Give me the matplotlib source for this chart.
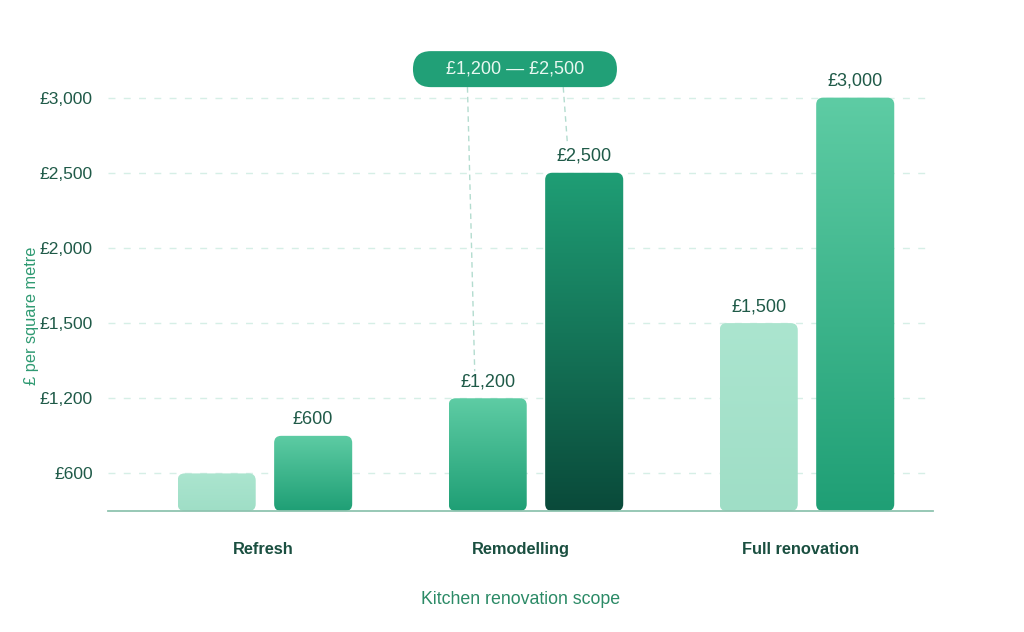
import numpy as np
import matplotlib
matplotlib.use("Agg")
import matplotlib.pyplot as plt
from matplotlib.patches import FancyBboxPatch
from matplotlib.colors import LinearSegmentedColormap

plt.rcParams["font.family"] = ["Liberation Sans", "DejaVu Sans"]

# data
categories = ["Refresh", "Remodelling", "Full renovation"]
low_values = [500, 1000, 1500]
high_values = [750, 2500, 3000]
low_labels = ["", "£1,200", "£1,500"]
high_labels = ["£600", "£2,500", "£3,000"]
tick_values = [500, 1000, 1500, 2000, 2500, 3000]
tick_labels = ["£600", "£1,200", "£1,500", "£2,000", "£2,500", "£3,000"]
range_label = "£1,200 — £2,500"
y_floor = 250

# styles
gradients = {
    "light": ("#9fdec6", "#abe5cf"),
    "mid": ("#1f9f75", "#5ecca4"),
    "dark": ("#0a4a3a", "#1f9e75"),
}
low_styles = ["light", "mid", "light"]
high_styles = ["mid", "dark", "mid"]
label_shift_px = [-2, -15, -6.5]  # category labels sit a little left of the groups
TXT = "#1f5a48"

fig = plt.figure(figsize=(10.24, 6.32), dpi=100)
ax = fig.add_axes([108 / 1024, 121 / 632, 825 / 1024, 473.5 / 632])
ax.set_xlim(-0.579, 2.465)
ax.set_ylim(y_floor, 3400)

x = np.arange(len(categories))
off, width = 0.178, 0.288

bars_low = ax.bar(x - off, np.array(low_values) - y_floor, width, bottom=y_floor)
bars_high = ax.bar(x + off, np.array(high_values) - y_floor, width, bottom=y_floor)

# pixel -> data helpers
p0 = ax.transData.transform((0, 0))
p1 = ax.transData.transform((1, 1))
px_x = p1[0] - p0[0]
px_y = p1[1] - p0[1]
dx = lambda p: p / px_x
dy = lambda p: p / px_y
asp = dy(1) / dx(1)


def draw_bar(rect, style):
    bx, by = rect.get_x(), rect.get_y()
    bw, bh = rect.get_width(), rect.get_height()
    rect.set_visible(False)
    patch = FancyBboxPatch((bx, by), bw, bh,
                           boxstyle=f"round,pad=0,rounding_size={dx(7)}",
                           mutation_aspect=asp, fc="none", ec="none", zorder=2)
    ax.add_patch(patch)
    cmap = LinearSegmentedColormap.from_list(style, gradients[style])
    grad = np.linspace(0, 1, 256).reshape(-1, 1)
    im = ax.imshow(grad, extent=[bx, bx + bw, by, by + bh], origin="lower",
                   cmap=cmap, aspect="auto", zorder=2, interpolation="bilinear")
    im.set_clip_path(patch)


for rect, st in zip(bars_low, low_styles):
    draw_bar(rect, st)
for rect, st in zip(bars_high, high_styles):
    draw_bar(rect, st)

ax.set_xlim(-0.579, 2.465)
ax.set_ylim(y_floor, 3400)

# value labels
for xi, v, lab in zip(x - off, low_values, low_labels):
    if lab:
        ax.annotate(lab, (xi, v), xytext=(0, 8.6), textcoords="offset points",
                    ha="center", va="baseline", fontsize=13, color=TXT)
for xi, v, lab in zip(x + off, high_values, high_labels):
    ax.annotate(lab, (xi, v), xytext=(0, 8.6), textcoords="offset points",
                ha="center", va="baseline", fontsize=13, color=TXT)

# range pill + leader lines
cx = x[1] - dx(21)
cy = high_values[2] + dy(28.5)
pill = FancyBboxPatch((cx - dx(102), cy - dy(18)), dx(204), dy(36),
                      boxstyle=f"round,pad=0,rounding_size={dx(18)}",
                      mutation_aspect=asp, fc="#21a077", ec="none",
                      zorder=4, clip_on=False)
ax.add_patch(pill)
ax.text(cx, cy, range_label, ha="center", va="center", fontsize=13,
        color="#e8f8f1", zorder=5)
pill_bottom = cy - dy(18)
ax.plot([cx - dx(47.5), x[1] - off - dx(13)],
        [pill_bottom, low_values[1] + dy(27)],
        ls=(0, (4, 3)), lw=1, color="#b3dccf", zorder=3, clip_on=False)
ax.plot([cx + dx(48.3), x[1] + off - dx(16.7)],
        [pill_bottom, high_values[1] + dy(28)],
        ls=(0, (4, 3)), lw=1, color="#b3dccf", zorder=3, clip_on=False)

# axes styling
ax.set_yticks(tick_values)
ax.set_yticklabels(tick_labels, fontsize=12.5, color=TXT)
ax.set_xticks(x + np.array([dx(s) for s in label_shift_px]))
ax.set_xticklabels(categories, fontsize=11.8, fontweight="bold", color="#1a4f40")
ax.tick_params(axis="both", length=0)
ax.tick_params(axis="y", pad=11)
ax.tick_params(axis="x", pad=22.6)
ax.grid(axis="y", color="#d6efe6", lw=1, ls=(0, (5, 6)), zorder=0)
ax.set_axisbelow(True)
for s in ["top", "right", "left"]:
    ax.spines[s].set_visible(False)
ax.spines["bottom"].set_color("#8fc4b0")
ax.spines["bottom"].set_linewidth(1.3)

ax.set_xlabel("Kitchen renovation scope", fontsize=12.8, color="#2b8a66")
ax.xaxis.set_label_coords(0.5, -0.186)
ax.xaxis.label.set_va("center")
ax.set_ylabel("£ per square metre", fontsize=11.8, color="#2f9a72")
ax.yaxis.set_label_coords(-0.093, 0.412)
ax.yaxis.label.set_va("center")

fig.savefig("out.png", dpi=100, facecolor="white")
